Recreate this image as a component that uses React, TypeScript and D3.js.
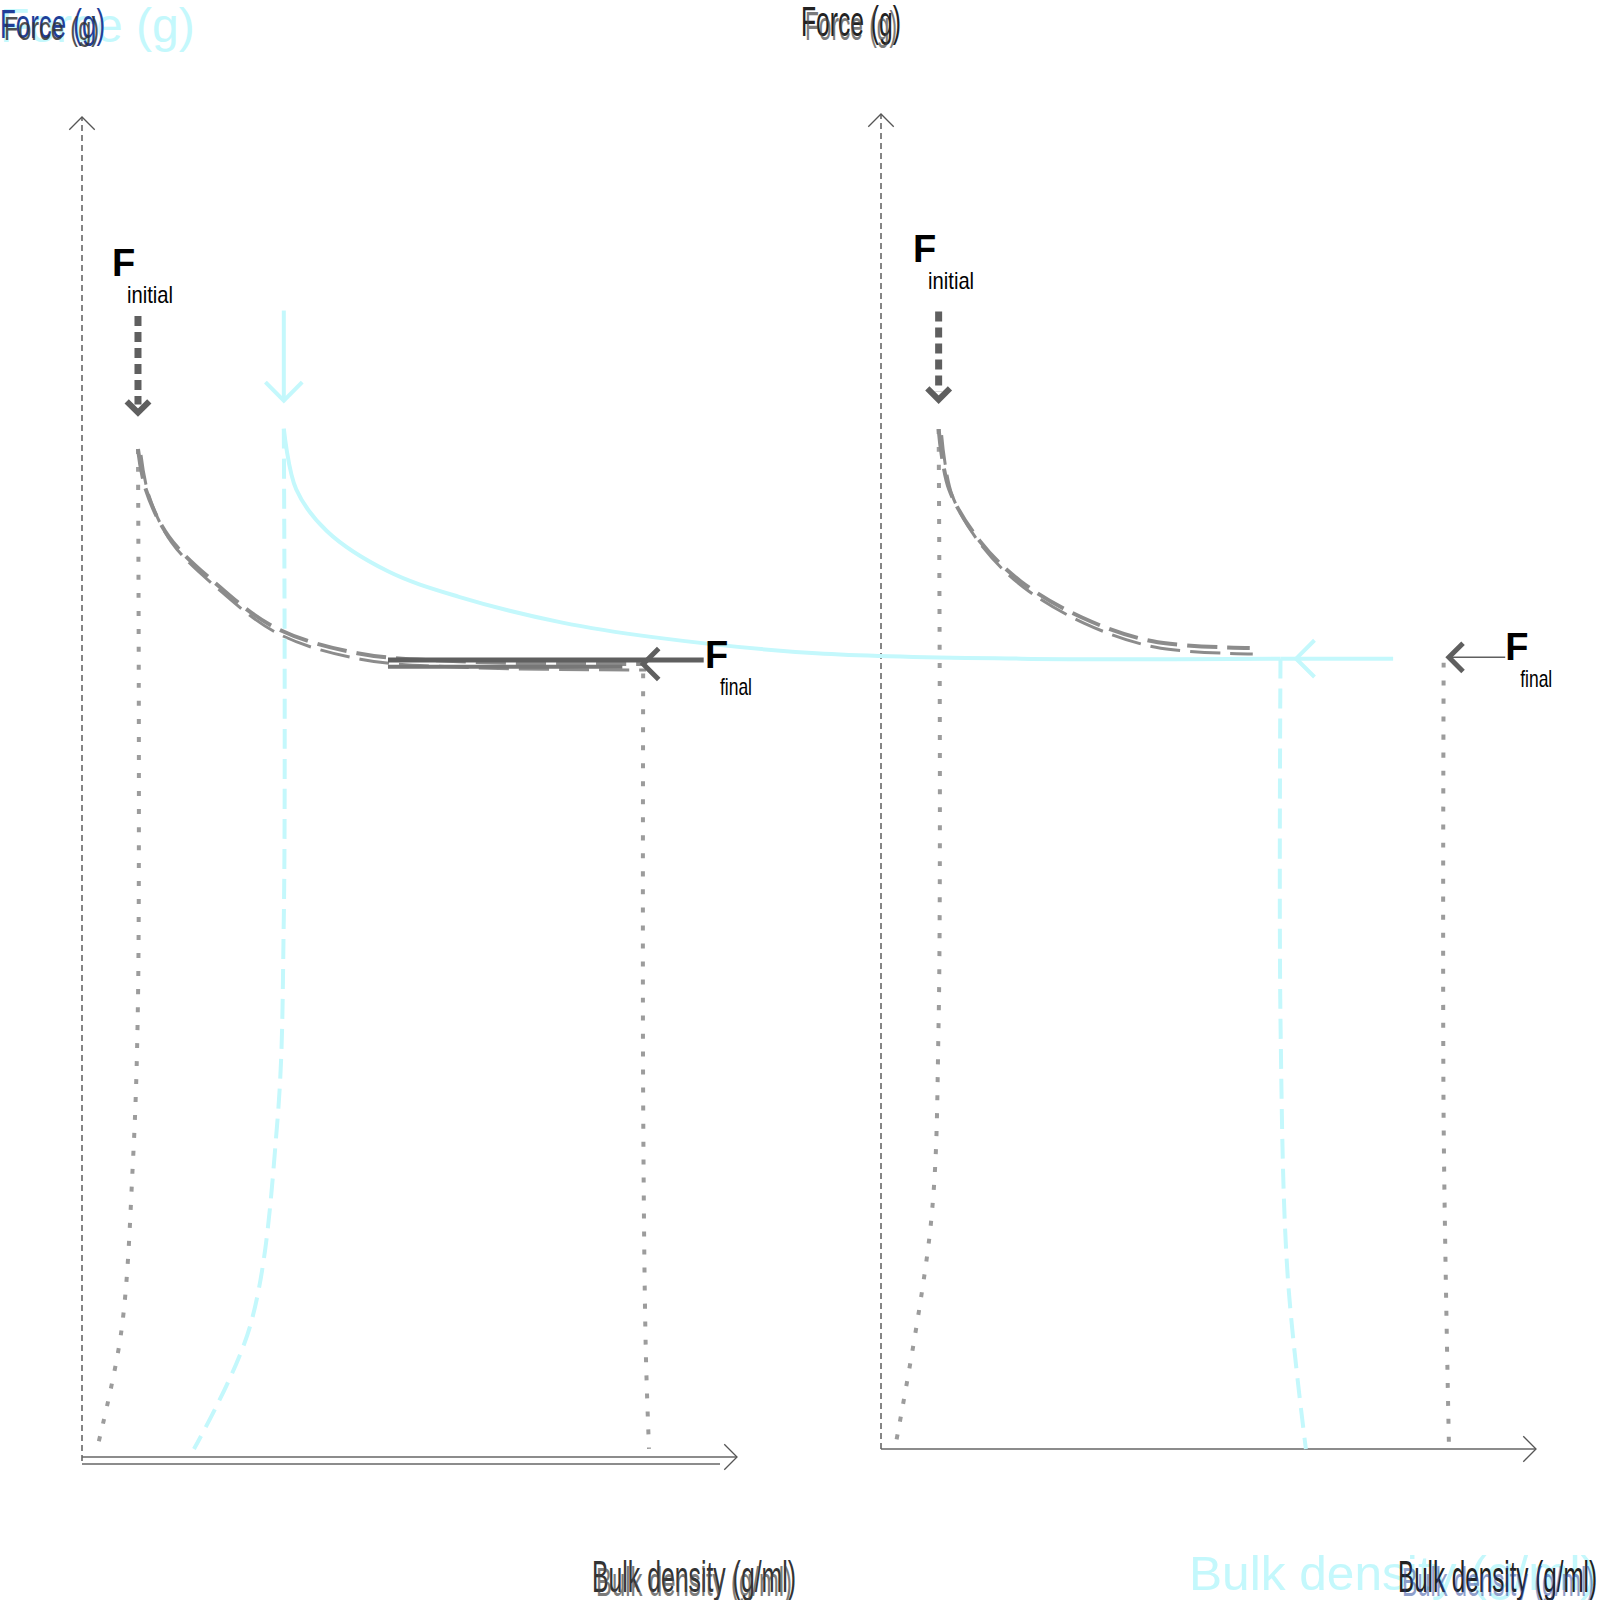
import React from "react";
import * as d3 from "d3";

type Pt = [number, number];

// ---- data (panel units: bulk density % of axis, force % of axis) ----
const leftDecay: Pt[] = [[8.6, 75.3], [9.8, 72.3], [13.3, 68.8], [20.3, 65.4], [29.7, 62.0], [42.3, 60.1], [57.9, 59.5], [86.2, 59.3]];
const leftFinalBars: Pt[][] = [[[47.0, 59.6], [95.5, 59.6]], [[47.0, 59.1], [83.0, 59.1]]];
const leftInitialDrop: Pt[] = [[8.6, 75.3], [8.6, 34.3], [7.8, 22.0], [6.0, 9.5], [2.3, 0.9]];
const leftFinalDrop: Pt[] = [[86.2, 58.6], [86.2, 26.9], [86.6, 8.3], [87.1, 0.9]];
const leftArrowDown: Pt[] = [[8.6, 85.2], [8.6, 78.6]];

const cyanCurve: Pt[] = [[31.0, 76.8], [32.9, 72.3], [37.6, 69.2], [47.0, 66.2], [57.9, 64.3], [73.6, 62.4], [87.7, 61.3], [112.8, 60.1], [144.2, 59.7], [184.1, 59.7]];
const cyanTail: Pt[] = [[184.1, 59.7], [201.4, 59.7]];
const cyanLeftDrop: Pt[] = [[31.0, 76.8], [31.0, 40.4], [30.0, 25.2], [25.8, 10.0], [17.2, 0.9]];
const cyanRightDrop: Pt[] = [[184.1, 59.7], [184.1, 32.8], [185.2, 13.8], [188.0, 0.9]];
const cyanArrowDown: Pt[] = [[31.0, 85.6], [31.0, 78.9]];
const cyanArrowLeftTip: Pt = [186.5, 59.7];

const rightDecay: Pt[] = [[8.8, 76.4], [10.4, 71.9], [15.1, 68.0], [21.3, 65.0], [30.6, 62.3], [41.5, 60.5], [56.3, 60.0]];
const rightInitialDrop: Pt[] = [[8.8, 76.4], [8.8, 32.1], [7.6, 16.8], [2.3, 0.5]];
const rightFinalDrop: Pt[] = [[85.9, 58.9], [85.9, 24.5], [86.7, 0.5]];
const rightArrowDown: Pt[] = [[8.8, 85.2], [8.8, 79.2]];
const rightFinalArrow: Pt[] = [[95.3, 59.3], [86.7, 59.3]];

const fLabels = [
  { panel: "L", x: 4.6, y: 88.2, sub: "initial" },
  { panel: "L", x: 95.7, y: 59.0, sub: "final" },
  { panel: "R", x: 4.9, y: 88.9, sub: "initial" },
  { panel: "R", x: 95.3, y: 59.1, sub: "final" },
];

const yTitle = "Force (g)";
const xTitle = "Bulk density (g/ml)";

// ---- scales ----
const xL = d3.scaleLinear().domain([0, 100]).range([82, 733]);
const yL = d3.scaleLinear().domain([0, 100]).range([1461, 117]);
const xR = d3.scaleLinear().domain([0, 100]).range([881, 1536]);
const yR = d3.scaleLinear().domain([0, 100]).range([1449, 114]);

const CYAN = "#c4f8fc";
const GDARK = "#5f5f5f";
const GMID = "#8c8c8c";
const GLIGHT = "#9c9c9c";
const FONT = "'Liberation Sans', Arial, sans-serif";

function lineFor(xs: any, ys: any, dx = 0, dy = 0) {
  return d3
    .line<Pt>()
    .x((d) => xs(d[0]) + dx)
    .y((d) => ys(d[1]) + dy)
    .curve(d3.curveCatmullRom.alpha(0.5));
}

function chevron(tx: number, ty: number, angleDeg: number, len: number, spread = 45) {
  // angleDeg: direction the arrow points
  const a = (angleDeg * Math.PI) / 180;
  const s = (spread * Math.PI) / 180;
  const b1 = a + Math.PI - s;
  const b2 = a + Math.PI + s;
  return `M${tx + len * Math.cos(b1)},${ty + len * Math.sin(b1)}L${tx},${ty}L${tx + len * Math.cos(b2)},${ty + len * Math.sin(b2)}`;
}

export default function App() {
  const lL = lineFor(xL, yL);
  const lR = lineFor(xR, yR);
  const lLoff = lineFor(xL, yL, 3, 6);
  const lRoff = lineFor(xR, yR, 3, 6);

  const leftAxisX = xL(0);
  const rightAxisX = xR(0);

  return (
    <svg width={1600} height={1600} style={{ position: "absolute", left: 0, top: 0, background: "#fff" }} fontFamily={FONT}>
      {/* ---------- axes ---------- */}
      <g fill="none">
        {/* left y axis */}
        <line x1={leftAxisX} y1={yL(0)} x2={leftAxisX} y2={yL(100)} stroke="#444" strokeWidth={1.3} strokeDasharray="6 4" />
        <path d={chevron(leftAxisX, yL(100), -90, 18)} stroke="#555" strokeWidth={1.3} />
        {/* left x axis (doubled) */}
        <line x1={leftAxisX} y1={yL(0) - 4} x2={xL(100) + 4} y2={yL(0) - 4} stroke="#666" strokeWidth={1.6} />
        <line x1={leftAxisX} y1={yL(0) + 3} x2={xL(100) - 13} y2={yL(0) + 3} stroke="#666" strokeWidth={1.6} />
        <path d={chevron(xL(100) + 4, yL(0) - 4, 0, 18)} stroke="#555" strokeWidth={1.3} />
        {/* right y axis */}
        <line x1={rightAxisX} y1={yR(0)} x2={rightAxisX} y2={yR(100)} stroke="#444" strokeWidth={1.3} strokeDasharray="6 4" />
        <path d={chevron(rightAxisX, yR(100), -90, 18)} stroke="#555" strokeWidth={1.3} />
        {/* right x axis */}
        <line x1={rightAxisX} y1={yR(0)} x2={xR(100)} y2={yR(0)} stroke="#666" strokeWidth={1.6} />
        <path d={chevron(xR(100), yR(0), 0, 18)} stroke="#555" strokeWidth={1.3} />
      </g>

      {/* ---------- left panel (gray) ---------- */}
      <g fill="none" strokeLinecap="butt">
        <path d={lL(leftInitialDrop) || ""} stroke={GLIGHT} strokeWidth={4} strokeDasharray="5 13" />
        <path d={lL(leftFinalDrop) || ""} stroke={GLIGHT} strokeWidth={4} strokeDasharray="5 13" />
        <path d={lL(leftDecay) || ""} stroke={GMID} strokeWidth={4} strokeDasharray="30 10" />
        <path d={lLoff(leftDecay) || ""} stroke={GMID} strokeWidth={3} strokeDasharray="30 10" />
        {leftFinalBars.map((b, i) => (
          <path key={i} d={lL(b) || ""} stroke={i === 0 ? GDARK : "#777"} strokeWidth={i === 0 ? 5 : 4} />
        ))}
        <path d={chevron(xL(86.2), yL(59.3), 180, 22)} stroke={GDARK} strokeWidth={5} />
        <path d={lL(leftArrowDown) || ""} stroke={GDARK} strokeWidth={7} strokeDasharray="10 6" />
        <path d={chevron(xL(leftArrowDown[1][0]), yL(leftArrowDown[1][1]) + 8, 90, 16)} stroke={GDARK} strokeWidth={6} />
      </g>

      {/* ---------- right panel (gray) ---------- */}
      <g fill="none">
        <path d={lR(rightInitialDrop) || ""} stroke={GLIGHT} strokeWidth={4} strokeDasharray="5 13" />
        <path d={lR(rightFinalDrop) || ""} stroke={GLIGHT} strokeWidth={4} strokeDasharray="5 13" />
        <path d={lR(rightDecay) || ""} stroke={GMID} strokeWidth={4} strokeDasharray="30 10" />
        <path d={lRoff(rightDecay) || ""} stroke={GMID} strokeWidth={3} strokeDasharray="30 10" />
        <path d={lR(rightFinalArrow) || ""} stroke={GDARK} strokeWidth={1.5} />
        <path d={chevron(xR(86.7), yR(59.3), 180, 20)} stroke={GDARK} strokeWidth={5} />
        <path d={lR(rightArrowDown) || ""} stroke={GDARK} strokeWidth={7} strokeDasharray="10 6" />
        <path d={chevron(xR(rightArrowDown[1][0]), yR(rightArrowDown[1][1]) + 8, 90, 16)} stroke={GDARK} strokeWidth={6} />
      </g>

      {/* ---------- cyan series ---------- */}
      <g fill="none" stroke={CYAN}>
        <path d={lL(cyanLeftDrop) || ""} strokeWidth={4} strokeDasharray="20 10" />
        <path d={lL(cyanRightDrop) || ""} strokeWidth={4} strokeDasharray="20 10" />
        <path d={lL(cyanCurve) || ""} strokeWidth={4} />
        <path d={lL(cyanTail) || ""} strokeWidth={4} />
        <path d={lL(cyanArrowDown) || ""} strokeWidth={4} />
        <path d={chevron(xL(cyanArrowDown[1][0]), yL(cyanArrowDown[1][1]), 90, 26)} strokeWidth={4} />
        <path d={chevron(xL(cyanArrowLeftTip[0]), yL(cyanArrowLeftTip[1]), 180, 26)} strokeWidth={4} />
      </g>

      {/* ---------- F labels ---------- */}
      <g fill="#000">
        {fLabels.map((f, i) => {
          const xs = f.panel === "L" ? xL : xR;
          const ys = f.panel === "L" ? yL : yR;
          const x = xs(f.x);
          const y = ys(f.y);
          return (
            <g key={i}>
              <text x={x} y={y} fontSize={38} fontWeight={700}>F</text>
              <text x={x + 15} y={y + 27} fontSize={24} textLength={f.sub === "initial" ? 46 : 32} lengthAdjust="spacingAndGlyphs">{f.sub}</text>
            </g>
          );
        })}
      </g>

      {/* ---------- titles ---------- */}
      <text x={0} y={42} fontSize={48} fill={CYAN}>{yTitle}</text>
      <text x={0} y={38} fontSize={40} fill="#1f3f99" textLength={105} lengthAdjust="spacingAndGlyphs">{yTitle}</text>
      <text x={4} y={40} fontSize={34} fill="#333" textLength={95} lengthAdjust="spacingAndGlyphs" opacity={0.85}>{yTitle}</text>

      <text x={801} y={36} fontSize={42} fill="#222" textLength={100} lengthAdjust="spacingAndGlyphs">{yTitle}</text>
      <text x={805} y={40} fontSize={40} fill="#444" textLength={92} lengthAdjust="spacingAndGlyphs" opacity={0.7}>{yTitle}</text>

      <text x={592} y={1592} fontSize={44} fill="#333" textLength={204} lengthAdjust="spacingAndGlyphs">{xTitle}</text>
      <text x={596} y={1596} fontSize={40} fill="#444" textLength={196} lengthAdjust="spacingAndGlyphs" opacity={0.7}>{xTitle}</text>

      <text x={1189} y={1590} fontSize={48} fill={CYAN} textLength={408} lengthAdjust="spacingAndGlyphs">{xTitle}</text>
      <text x={1398} y={1592} fontSize={44} fill="#222" textLength={199} lengthAdjust="spacingAndGlyphs">{xTitle}</text>
      <text x={1402} y={1596} fontSize={40} fill="#1f3f99" textLength={192} lengthAdjust="spacingAndGlyphs" opacity={0.5}>{xTitle}</text>
    </svg>
  );
}
